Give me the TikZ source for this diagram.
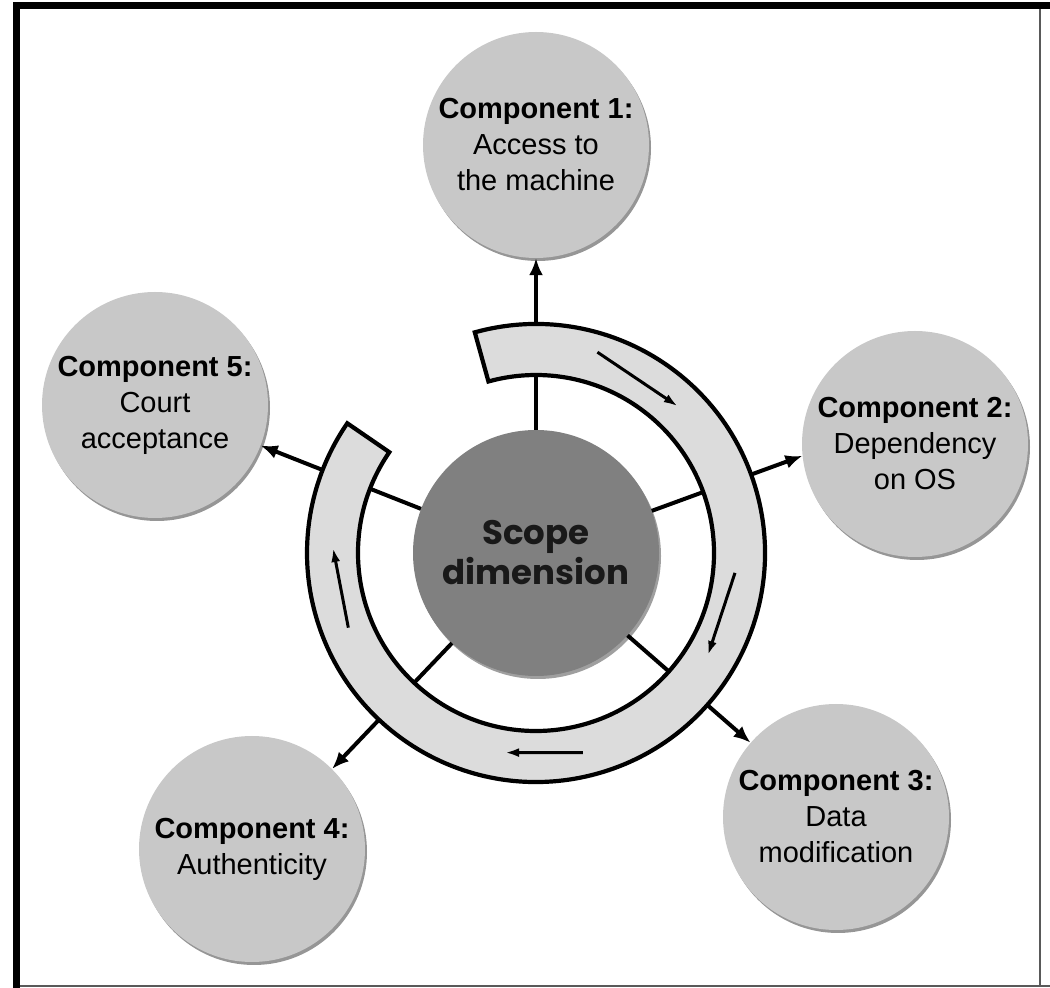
\documentclass[tikz,border=0pt]{standalone}
\usepackage{fontspec}
\setmainfont{Liberation Sans}
\newfontfamily\scopefont{Poppins}
\usetikzlibrary{arrows.meta,shadows,calc}
\definecolor{compfill}{RGB}{200,200,200}
\definecolor{scopefill}{RGB}{128,128,128}
\definecolor{ringfill}{RGB}{220,220,220}
\begin{document}
\begin{tikzpicture}[x=1pt,y=1pt,
  comp/.style={circle, fill=compfill, minimum size=226pt, inner sep=0pt, align=center,
    font=\fontsize{29}{36}\selectfont,
    drop shadow={shadow xshift=2pt, shadow yshift=-3pt, opacity=0.55, fill=black!75}},
  scope/.style={circle, fill=scopefill, minimum size=246pt, inner sep=0pt, align=center,
    font=\scopefont\bfseries\fontsize{34}{40}\selectfont, text=black!90,
    drop shadow={shadow xshift=2pt, shadow yshift=-3pt, opacity=0.5, fill=black!75}},
  spoke/.style={line width=4pt, -{Latex[length=17pt,width=14pt]}},
  ring/.style={fill=ringfill, draw=black, line width=4.2pt, line join=miter},
  ringarrow/.style={line width=3pt, -{Latex[length=14pt,width=9pt]}}
]
\useasboundingbox (0,0) rectangle (1050,988);
% frame
\fill[black] (13,0) rectangle (20,986);
\fill[black] (13,979) rectangle (1050,986);
\draw[black!65, line width=2pt] (1040,979) -- (1040,2);
\draw[black!65, line width=2.5pt] (20,2) -- (1050,2);

\coordinate (O) at (536,435);
\node[scope] (S) at (O) {Scope\\dimension};
\node[comp] (C1) at (536,843) {{\bfseries Component 1:}\\Access to\\the machine};
\node[comp] (C2) at (915,544) {{\bfseries Component 2:}\\Dependency\\on OS};
\node[comp] (C3) at (836,171) {{\bfseries Component 3:}\\Data\\modification};
\node[comp] (C4) at (252,139) {{\bfseries Component 4:}\\Authenticity};
\node[comp] (C5) at (155,583) {{\bfseries Component 5:}\\Court\\acceptance};

% spokes
\draw[spoke] (S.90) -- (C1.south);
\draw[spoke] (S.20) -- (C2.186);
\draw[spoke] (S.-42) -- (C3.139);
\draw[spoke] (S.227) -- (C4.45);
\draw[spoke] (S.159) -- (C5.339);

% ring
\draw[ring] ($(O)+(105.5:229)$) arc[start angle=105.5, end angle=-214.5, radius=229]
  -- ($(O)+(145.5:178)$) arc[start angle=-214.5, end angle=105.5, radius=178] -- cycle;

% arrows inside ring
\coordinate (a1s) at ($(O)+(73:210)$);
\coordinate (a1e) at ($(O)+(46:204)$);
\coordinate (a2s) at ($(O)+(-5.7:200)$);
\coordinate (a2e) at ($(O)+(-30.7:200)$);
\coordinate (a3s) at ($(O)+(-76.8:205)$);
\coordinate (a3e) at ($(O)+(-98.8:202)$);
\coordinate (a4s) at ($(O)+(201.7:202)$);
\coordinate (a4e) at ($(O)+(178.6:203)$);
\draw[ringarrow] (a1s) -- (a1e);
\draw[ringarrow] (a2s) -- (a2e);
\draw[ringarrow] (a3s) -- (a3e);
\draw[ringarrow] (a4s) -- (a4e);
\end{tikzpicture}
\end{document}
